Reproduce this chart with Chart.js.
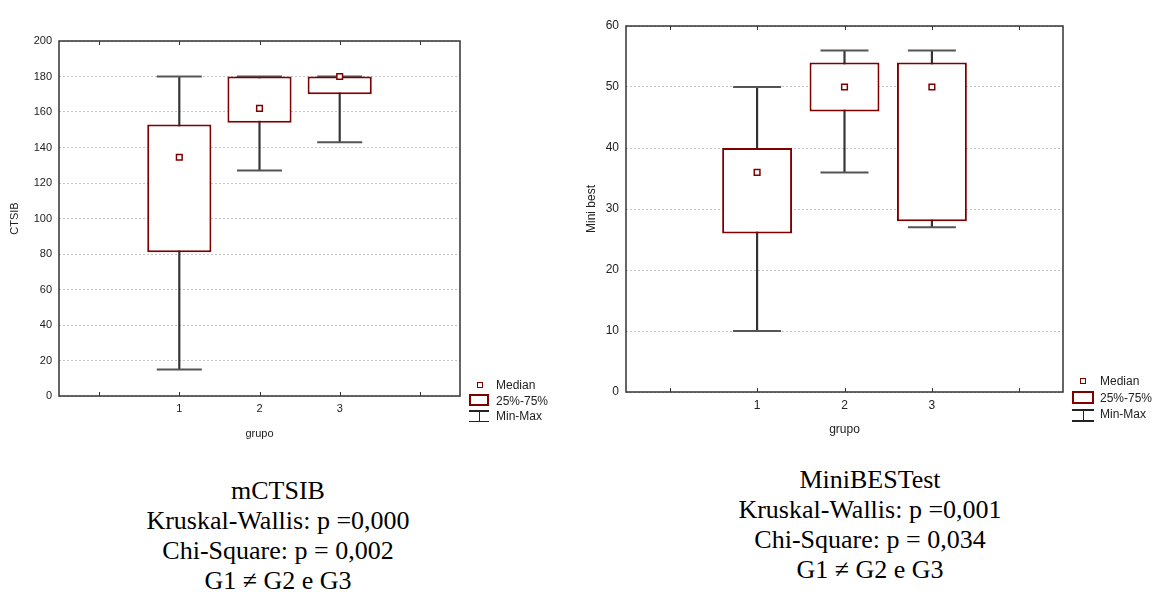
<!DOCTYPE html>
<html>
<head>
<meta charset="utf-8">
<script src="https://cdn.jsdelivr.net/npm/chart.js@4.4.1/dist/chart.umd.min.js"></script>
<style>
  html, body { margin: 0; padding: 0; background: #fff; }
  body { width: 1163px; height: 592px; position: relative; overflow: hidden; font-family: "Liberation Sans", Arial, sans-serif; }
  canvas { position: absolute; }
  .cap { position: absolute; width: 400px; text-align: center; font-family: "Liberation Serif", "Times New Roman", serif; font-size: 26px; line-height: 30px; color: #000; }
  .lg { position: absolute; font-size: 12px; color: #222; line-height: 14px; }
  .med { position: absolute; width: 4px; height: 4px; border: 1.5px solid #800000; background: #fff; }
  .box { position: absolute; border: 2px solid #800000; background: #fff; box-sizing: border-box; }
  .wh { position: absolute; background: #222; }
</style>
</head>
<body>
<canvas id="c1" width="560" height="445" style="left:0;top:0;width:560px;height:445px"></canvas>
<canvas id="c2" width="603" height="441" style="left:560px;top:0;width:603px;height:441px"></canvas>

<!-- legend left -->
<div class="med" style="left:477px;top:382px"></div>
<div class="lg" style="left:496px;top:378px">Median</div>
<div class="box" style="left:469px;top:394px;width:20px;height:12px"></div>
<div class="lg" style="left:496px;top:394px">25%-75%</div>
<div class="wh" style="left:469px;top:410px;width:20px;height:1.5px"></div>
<div class="wh" style="left:478.5px;top:410px;width:1.5px;height:11px"></div>
<div class="wh" style="left:469px;top:420.5px;width:20px;height:1.5px"></div>
<div class="lg" style="left:496px;top:409px">Min-Max</div>

<!-- legend right -->
<div class="med" style="left:1080px;top:378px"></div>
<div class="lg" style="left:1100px;top:374px">Median</div>
<div class="box" style="left:1072px;top:391px;width:22px;height:13px"></div>
<div class="lg" style="left:1100px;top:391px">25%-75%</div>
<div class="wh" style="left:1072px;top:409px;width:22px;height:1.5px"></div>
<div class="wh" style="left:1082.5px;top:409px;width:1.5px;height:12px"></div>
<div class="wh" style="left:1072px;top:420px;width:22px;height:1.5px"></div>
<div class="lg" style="left:1100px;top:407px">Min-Max</div>

<div class="cap" style="left:78px;top:476px">mCTSIB<br>Kruskal-Wallis: p =0,000<br>Chi-Square: p = 0,002<br>G1 &ne; G2 e G3</div>
<div class="cap" style="left:670px;top:465px">MiniBESTest<br>Kruskal-Wallis: p =0,001<br>Chi-Square: p = 0,034<br>G1 &ne; G2 e G3</div>

<script>
// ---- data ----
const groups = ['1', '2', '3'];

const ctsibMin    = [15, 127, 143];
const ctsibQ1     = [81, 154, 170];
const ctsibMedian = [134.5, 162, 180];
const ctsibQ3     = [153, 180, 180];
const ctsibMax    = [180, 180, 180];

const miniMin    = [10, 36, 27];
const miniQ1     = [26, 46, 28];
const miniMedian = [36, 50, 50];
const miniQ3     = [40, 54, 54];
const miniMax    = [50, 56, 56];

// ---- helpers ----
const pad = arr => [null, ...arr, null];
const axisLabels = ['', ...groups, ''];
const pair = (a, b) => pad(a.map((v, i) => [v, b[i]]));

const framePlugin = {
  id: 'frame',
  afterDraw(chart) {
    const {ctx, chartArea: a, scales: {x}} = chart;
    ctx.save();
    ctx.strokeStyle = '#333';
    ctx.lineWidth = 1.5;
    ctx.strokeRect(a.left, a.top, a.right - a.left, a.bottom - a.top);
    ctx.lineWidth = 1;
    for (let i = 0; i < x.ticks.length; i++) {
      const px = Math.round(x.getPixelForTick(i)) + 0.5;
      ctx.beginPath();
      ctx.moveTo(px, a.bottom); ctx.lineTo(px, a.bottom - 4);
      ctx.moveTo(px, a.top); ctx.lineTo(px, a.top + 4);
      ctx.stroke();
    }
    ctx.restore();
  }
};

function makeChart(id, d, o) {
  return new Chart(document.getElementById(id), {
    type: 'bar',
    data: {
      labels: axisLabels,
      datasets: [
        { type: 'line', data: pad(d.median), showLine: false, pointStyle: 'rect', pointRadius: 4,
          pointBorderWidth: 1.5, pointBorderColor: '#800000', pointBackgroundColor: '#fff', order: 0 },
        { type: 'bar', data: pair(d.q1, d.q3), backgroundColor: '#fff', borderColor: '#800000',
          borderWidth: 2, borderSkipped: false, grouped: false, barPercentage: 0.8, categoryPercentage: 1, order: 1 },
        { type: 'line', data: pad(d.min), showLine: false, pointStyle: 'line', pointRadius: o.cap,
          pointBorderWidth: 2, pointBorderColor: '#555', order: 2 },
        { type: 'line', data: pad(d.max), showLine: false, pointStyle: 'line', pointRadius: o.cap,
          pointBorderWidth: 2, pointBorderColor: '#555', order: 2 },
        { type: 'bar', data: pair(d.min, d.max), backgroundColor: '#333', borderWidth: 0,
          grouped: false, barThickness: 1.5, order: 3 }
      ]
    },
    options: {
      responsive: false,
      animation: false,
      devicePixelRatio: 1,
      layout: { padding: { left: 0, top: o.top, right: o.right, bottom: 0 } },
      plugins: { legend: { display: false }, tooltip: { enabled: false } },
      scales: {
        x: {
          type: 'category', offset: true,
          grid: { display: false, drawTicks: false },
          border: { display: false },
          ticks: { padding: 6, autoSkip: false, maxRotation: 0, color: '#222',
                   font: { family: 'Liberation Sans', size: o.fs } },
          title: { display: true, text: 'grupo', color: '#222', padding: { top: 4, bottom: 4 },
                   font: { family: 'Liberation Sans', size: o.fs } },
          afterFit: s => { s.height = 49; }
        },
        y: {
          min: o.min, max: o.max,
          ticks: { stepSize: o.step, padding: 7, color: '#222', font: { family: 'Liberation Sans', size: o.fs } },
          grid: { color: '#c4c4c4', drawTicks: false, lineWidth: 1 },
          border: { display: false, dash: [2, 2] },
          title: { display: true, text: o.ytitle, color: '#222', padding: { top: o.ytPad, bottom: 0 },
                   font: { family: 'Liberation Sans', size: o.fs } },
          afterFit: s => { s.width = o.yw; }
        }
      }
    },
    plugins: [framePlugin]
  });
}

makeChart('c1',
  { min: ctsibMin, q1: ctsibQ1, median: ctsibMedian, q3: ctsibQ3, max: ctsibMax },
  { top: 41, right: 100, yw: 59, min: 0, max: 200, step: 20, ytitle: 'CTSIB', ytPad: 8, cap: 22.5, fs: 11 });

makeChart('c2',
  { min: miniMin, q1: miniQ1, median: miniMedian, q3: miniQ3, max: miniMax },
  { top: 14, right: 100, yw: 66, min: 0, max: 60, step: 10, ytitle: 'Mini best', ytPad: 24, cap: 24, fs: 12 });
</script>
</body>
</html>
